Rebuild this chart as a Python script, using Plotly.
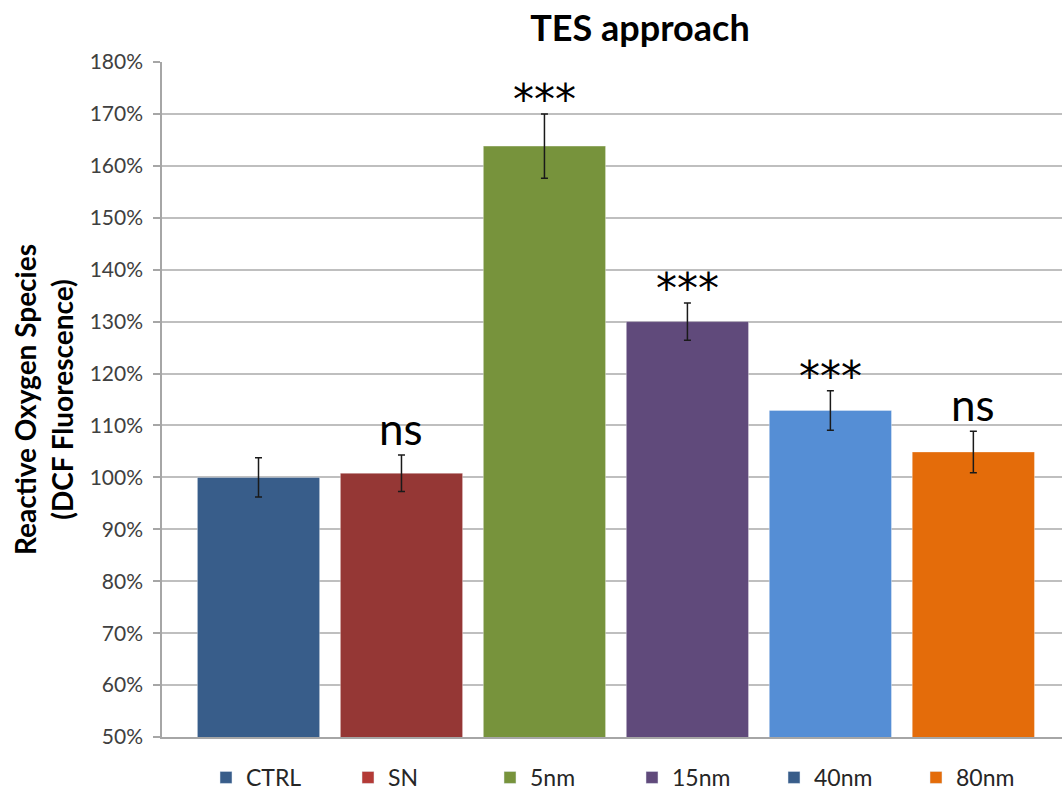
import plotly.graph_objects as go

categories = ["CTRL", "SN", "5nm", "15nm", "40nm", "80nm"]
values = [100.0, 100.8, 163.8, 130.0, 112.9, 104.9]
errors = [3.8, 3.5, 6.2, 3.6, 3.8, 4.0]
significance = ["", "ns", "***", "***", "***", "ns"]
bar_colors = ["#385D8A", "#953735", "#77933C", "#604A7B", "#558ED5", "#E46C0A"]
legend_colors = ["#385D8A", "#B33A36", "#77933C", "#604A7B", "#385D8A", "#E46C0A"]
y_ticks = list(range(50, 181, 10))
y_tick_labels = [f"{v}%" for v in y_ticks]

FONT = "Lato"

fig = go.Figure()
for cat, val, err, col in zip(categories, values, errors, bar_colors):
    fig.add_trace(go.Bar(
        x=[cat], y=[val], width=0.855,
        marker=dict(color=col, line=dict(color="rgba(255,255,255,0.35)", width=1)),
        error_y=dict(type="data", array=[err], color="#1a1a1a", thickness=1.5, width=3.5),
        showlegend=False, hoverinfo="skip",
    ))

for cat, col in zip(categories, legend_colors):
    fig.add_trace(go.Bar(x=[None], y=[None], name=cat, marker=dict(color=col), showlegend=True))

for cat, val, err, sig in zip(categories, values, errors, significance):
    if not sig:
        continue
    if sig == "ns":
        fig.add_annotation(x=cat, y=val + err, text=sig, showarrow=False, yanchor="bottom",
                           yshift=-1, font=dict(family=FONT, size=44, color="#000000"))
    else:
        fig.add_annotation(x=cat, y=val + err, text=sig, showarrow=False, yanchor="bottom",
                           yshift=-12, font=dict(family="DejaVu Sans", size=42, color="#000000"))

fig.update_layout(
    width=1062, height=793,
    margin=dict(l=162, r=0, t=62, b=56, autoexpand=False),
    paper_bgcolor="white", plot_bgcolor="white",
    barmode="overlay",
    title=dict(text="<b>TES approach</b>", x=(640 - 162) / 900, xref="paper", xanchor="center",
               y=1 - 28 / 793, yref="container", yanchor="middle",
               font=dict(family=FONT, size=36, color="#000000")),
    showlegend=True,
    legend=dict(orientation="h", x=(206 - 162) / 900, xanchor="left", y=-0.06, yanchor="middle",
                entrywidth=97, entrywidthmode="pixels",
                font=dict(family=FONT, size=23, color="#262626"), bgcolor="rgba(0,0,0,0)",
                itemclick=False, itemdoubleclick=False),
    font=dict(family=FONT),
)

fig.update_yaxes(
    range=[50, 180], tickvals=y_ticks, ticktext=y_tick_labels,
    showgrid=True, gridcolor="#BFBFBF", gridwidth=1.5,
    showline=True, linecolor="#A6A6A6", linewidth=1.5,
    ticks="outside", ticklen=7, tickcolor="#A6A6A6", tickwidth=1.5,
    tickfont=dict(family=FONT, size=21, color="#404040"),
    ticklabelstandoff=6, automargin=False,
    title=dict(text="<b>Reactive Oxygen Species<br>(DCF Fluorescence)</b>",
               font=dict(family=FONT, size=28, color="#000000"), standoff=8),
    zeroline=False,
)
fig.update_xaxes(
    range=[-0.675, 5.62], showticklabels=False, ticks="", automargin=False,
    showline=True, linecolor="#A6A6A6", linewidth=1.5, showgrid=False,
)

fig.write_html("out.html", config={"displayModeBar": False},
               post_script="document.body.style.margin='0';document.body.style.overflow='hidden';")
